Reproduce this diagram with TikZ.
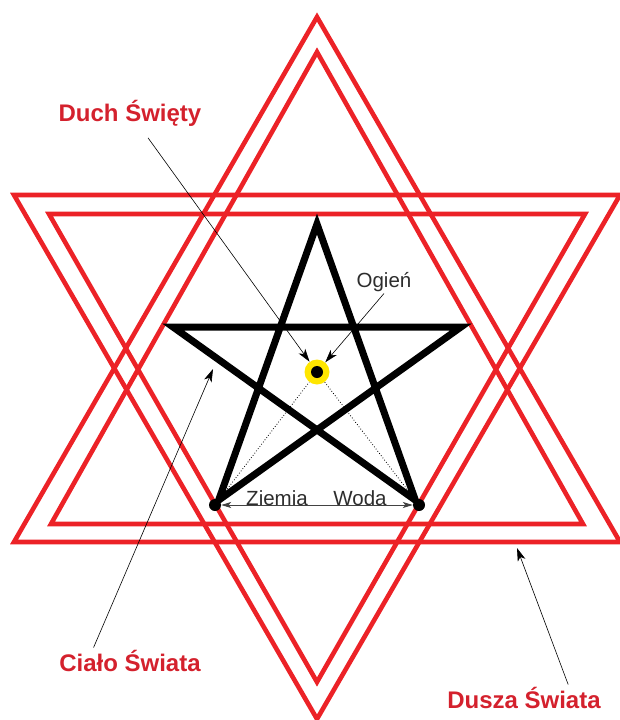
\documentclass[tikz,border=0pt]{standalone}
\usepackage{fontspec}
\setmainfont{Liberation Sans}
\usetikzlibrary{positioning,arrows.meta,calc}
\usepackage{xcolor}
\definecolor{starred}{RGB}{236,34,39}
\definecolor{labelred}{RGB}{212,33,45}
\definecolor{fireyellow}{RGB}{255,230,0}
\definecolor{textgray}{RGB}{45,45,45}

\begin{document}
\begin{tikzpicture}[x=1pt,y=-1pt,>={Stealth[length=13pt,width=8pt,inset=3.5pt]},
  tri/.style={draw=starred,line width=4.6pt,line join=miter},
  soul/.style={font=\fontsize{24}{28}\selectfont\bfseries,text=labelred,inner sep=2pt,anchor=base},
  elem/.style={font=\fontsize{20.5}{24}\selectfont,text=textgray,inner sep=2pt,anchor=base},
  dot/.style={circle,fill=black,minimum size=12pt,inner sep=0pt},
  pointer/.style={->,line width=0.6pt}]
\useasboundingbox (0,0) rectangle (620,720);
% two doubled triangles
\draw[tri] (317,17) -- (620,542) -- (14,542) -- cycle;
\draw[tri] (317,52) -- (583,524) -- (51,524) -- cycle;
\draw[tri] (14,195) -- (620,195) -- (317,719) -- cycle;
\draw[tri] (49,214) -- (585,214) -- (317,682) -- cycle;
% pentagram
\draw[line width=7pt,line join=miter] (317,224) -- (218.6,500.2) -- (461,327) -- (173,327) -- (415.4,500.2) -- cycle;
\node[dot] (earth) at (215,505) {};
\node[dot] (water) at (419,505) {};
\node[circle,fill=fireyellow,minimum size=25pt,inner sep=0pt] (fire) at (317,372) {};
\fill (fire) circle[radius=6pt];
\draw[dotted,line width=0.8pt] (earth) -- (fire) -- (water);
\draw[{Stealth[length=10pt,width=6pt,inset=2.5pt]}-{Stealth[length=10pt,width=6pt,inset=2.5pt]},line width=0.9pt,draw=textgray!90] (earth) -- (water);
% labels
\node[elem] (ziemia) at (277,505) {Ziemia};
\node[elem] (woda) at (360,505) {Woda};
\node[elem] (ogien) at (384,287) {Ogień};
\node[soul] (duch) at (130,121) {Duch Święty};
\node[soul] (cialo) at (130,671) {Ciało Świata};
\node[soul] (dusza) at (524,708) {Dusza Świata};
\coordinate (bodytip) at (213,369);
\coordinate (soultip) at (517,548);
% pointers
\draw[pointer,shorten <=12pt] (duch) -- (fire);
\draw[pointer] (ogien.south) -- (fire);
\draw[pointer] ($(cialo.north west)!0.25!(cialo.north east)$) -- (bodytip);
\draw[pointer] ($(dusza.north west)!0.78!(dusza.north east)$) -- (soultip);
\end{tikzpicture}
\end{document}
